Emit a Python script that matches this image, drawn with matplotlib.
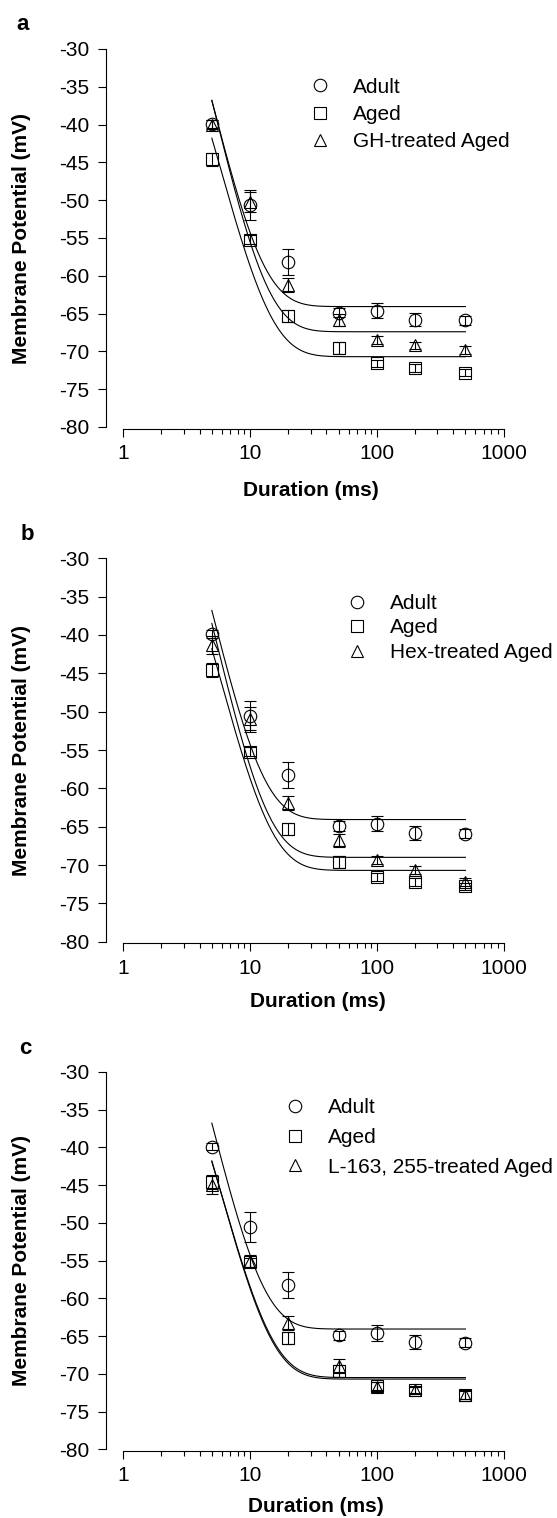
import matplotlib
matplotlib.use('Agg')
import matplotlib.pyplot as plt
import numpy as np

plt.rcParams['font.family'] = ['Liberation Sans', 'DejaVu Sans']
plt.rcParams['axes.unicode_minus'] = False

# ---------------- data ----------------
durations = [5, 10, 20, 50, 100, 200, 500]

adult = [-39.9, -50.6, -58.2, -64.9, -64.6, -65.8, -65.9]
adult_err = [0.5, 2.0, 1.7, 0.6, 1.0, 0.9, 0.6]

aged = [-44.6, -55.2, -65.3, -69.6, -71.6, -72.2, -72.8]
aged_err = [0.9, 0.6, 0.8, 0.8, 0.5, 0.5, 0.5]

gh_aged = [-40.0, -50.2, -61.2, -65.9, -68.5, -69.2, -69.8]
gh_aged_err = [0.6, 1.3, 0.9, 0.8, 0.5, 0.5, 0.5]

hex_aged = [-41.3, -50.9, -61.9, -66.8, -69.35, -70.65, -72.2]
hex_aged_err = [1.2, 1.5, 0.9, 0.8, 0.5, 0.5, 0.5]

l163_aged = [-45.0, -55.1, -63.3, -69.0, -71.7, -72.1, -72.8]
l163_aged_err = [1.2, 0.8, 0.9, 0.9, 0.6, 0.5, 0.6]

# exponential fit parameters: plateau, value at 5 ms, tau (ms)
fit_adult = (-64.07, -36.8, 4.9)
fit_aged = (-70.7, -41.8, 5.7)
fit_gh = (-67.4, -36.8, 5.3)
fit_hex = (-69.0, -38.5, 5.3)
fit_l163 = (-70.5, -41.9, 5.8)

treat_labels = ['GH-treated Aged', 'Hex-treated Aged', 'L-163, 255-treated Aged']
panel_letters = ['a', 'b', 'c']

yticks = [-80, -75, -70, -65, -60, -55, -50, -45, -40, -35, -30]
xticks = [1, 10, 100, 1000]
xticklabels = ['1', '10', '100', '1000']

# ---------------- layout (pixels) ----------------
W, H = 557, 1518
fig = plt.figure(figsize=(W / 100, H / 100), dpi=100)

x_left, x_right = 106.4, 503.6
x_low = 0.737

layouts = [
    dict(top=49.0, y80=427.0, letter=(23, 25), ylab=(21.4, 238), xlab=(311, 490),
         leg=(309.6, 114.5), lsp=0.40),
    dict(top=558.3, y80=941.7, letter=(27, 535), ylab=(21.4, 750), xlab=(318, 1001),
         leg=(346.3, 628), lsp=0.26),
    dict(top=1071.8, y80=1449.3, letter=(25, 1048), ylab=(21.4, 1260), xlab=(316, 1506),
         leg=(284.6, 1137.5), lsp=0.51),
]

treats = [(gh_aged, gh_aged_err, fit_gh), (hex_aged, hex_aged_err, fit_hex),
          (l163_aged, l163_aged_err, fit_l163)]

t = np.geomspace(5, 500, 400)


def fit_curve(p):
    plateau, v5, tau = p
    return plateau + (v5 - plateau) * np.exp(-(t - 5) / tau)


for i, L in enumerate(layouts):
    bot = L['y80'] + 1.5
    ax = fig.add_axes([x_left / W, 1 - bot / H, (x_right - x_left) / W, (bot - L['top']) / H])
    ylow = -80 - 1.5 * 50 / (L['y80'] - L['top'])
    tv, te, tf = treats[i]

    for fp in (fit_adult, fit_aged, tf):
        ax.plot(t, fit_curve(fp), color='k', lw=0.8, zorder=1)

    for vals, errs in ((adult, adult_err), (aged, aged_err), (tv, te)):
        ax.errorbar(durations, vals, yerr=errs, fmt='none', ecolor='k',
                    elinewidth=0.8, capsize=4, capthick=0.8, zorder=2)

    h1, = ax.plot(durations, adult, ls='none', marker='o', ms=9, mfc='none', mec='k', mew=0.8, zorder=3)
    h2, = ax.plot(durations, aged, ls='none', marker='s', ms=8, mfc='none', mec='k', mew=0.8, zorder=3)
    h3, = ax.plot(durations, tv, ls='none', marker='^', ms=8.5, mfc='none', mec='k', mew=0.8, zorder=3)

    ax.set_xscale('log')
    ax.set_xlim(x_low, 1000)
    ax.set_ylim(ylow, -30)
    ax.set_yticks(yticks)
    ax.set_yticklabels([str(v) for v in yticks])
    ax.set_xticks(xticks)
    ax.set_xticklabels(xticklabels)
    minor = [m * 10 ** k for k in range(3) for m in range(2, 10)]
    ax.set_xticks(minor, minor=True)
    ax.set_xticklabels([], minor=True)
    ax.tick_params(axis='both', which='major', direction='out', length=5.8, width=0.8,
                   labelsize=15, color='k')
    ax.tick_params(axis='both', which='minor', direction='out', length=3.3, width=0.8)
    ax.tick_params(axis='y', pad=6.5)
    ax.tick_params(axis='x', which='both', pad=5.4)
    for s in ('top', 'right'):
        ax.spines[s].set_visible(False)
    ax.spines['left'].set_bounds(-80, -30)
    ax.spines['bottom'].set_bounds(1, 1000)
    for s in ('left', 'bottom'):
        ax.spines[s].set_linewidth(0.8)
    ax.patch.set_visible(False)

    lx, ly = L['leg']
    ax.legend([h1, h2, h3], ['Adult', 'Aged', treat_labels[i]], loc='center left',
              bbox_to_anchor=(lx / W, 1 - ly / H), bbox_transform=fig.transFigure,
              frameon=False, fontsize=15, handlelength=1.0, handletextpad=1.09,
              labelspacing=L['lsp'], borderpad=0, borderaxespad=0)

    fig.text(L['letter'][0] / W, 1 - L['letter'][1] / H, panel_letters[i],
             fontsize=16, fontweight='bold', ha='center', va='center')
    fig.text(L['ylab'][0] / W, 1 - L['ylab'][1] / H, 'Membrane Potential (mV)',
             fontsize=15, fontweight='bold', rotation=90, ha='center', va='center')
    fig.text(L['xlab'][0] / W, 1 - L['xlab'][1] / H, 'Duration (ms)',
             fontsize=15, fontweight='bold', ha='center', va='center')

fig.savefig('out.png', dpi=100)
